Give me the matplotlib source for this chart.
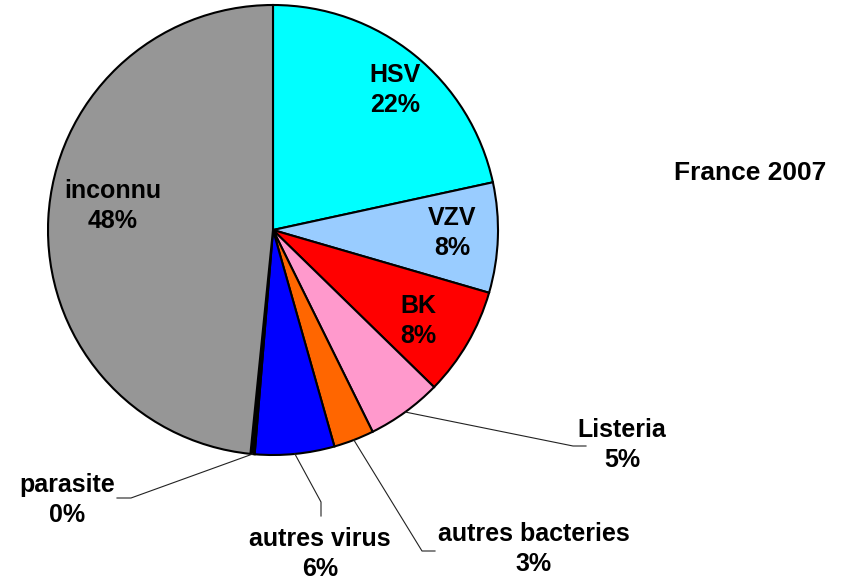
import numpy as np
from matplotlib import pyplot as plt

labels = ['HSV', 'VZV', 'BK', 'Listeria', 'autres bacteries', 'autres virus', 'parasite', 'inconnu']
values = [21.6, 7.9, 7.8, 5.4, 2.9, 5.7, 0.3, 48.4]
colors = ['#00FFFF', '#99CCFF', '#FF0000', '#FF99CC', '#FF6600', '#0000FF', '#000000', '#969696']

W, H = 852, 582
CX, CY, R = 273, 230, 225


def px(x, y):
    # pixel position -> data coords (pie radius 1)
    return (x - CX) / R, (CY - y) / R


plt.rcParams['font.family'] = ['Liberation Sans', 'DejaVu Sans']
fig = plt.figure(figsize=(W / 100, H / 100), dpi=100)
ax = fig.add_axes([0, 0, 1, 1])

wedges, _ = ax.pie(values, colors=colors, startangle=90, counterclock=False,
                   radius=1, wedgeprops=dict(edgecolor='black', linewidth=1.5))
ax.set_xlim(-CX / R, (W - CX) / R)
ax.set_ylim(-(H - CY) / R, CY / R)
ax.axis('off')

pct = {lab: f"{lab}\n{round(v):.0f}%" for lab, v in zip(labels, values)}
FS = 18

# labels inside the pie
inside = {'HSV': (395, 90), 'VZV': (452, 233), 'BK': (418, 321), 'inconnu': (113, 206)}
for lab, (x, y) in inside.items():
    ax.text(*px(x, y), pct[lab], ha='center', va='center', fontsize=FS,
            fontweight='bold', linespacing=1.35)

# labels outside with leader lines: (text centre, elbow, end)
outside = {
    'Listeria': ((622, 445), (573, 446), (586, 446)),
    'autres bacteries': ((534, 549), (422, 551), (435, 551)),
    'autres virus': ((320, 554), (321, 502), (321, 516)),
    'parasite': ((67, 500), (131, 498), (117, 498)),
}
for w, lab in zip(wedges, labels):
    if lab not in outside:
        continue
    (tx, ty), elbow, end = outside[lab]
    ang = np.deg2rad((w.theta1 + w.theta2) / 2)
    sx, sy = np.cos(ang), np.sin(ang)
    ex, ey = px(*elbow)
    fx, fy = px(*end)
    ax.plot([sx, ex, fx], [sy, ey, fy], color='#222222', lw=0.8)
    ax.text(*px(tx, ty), pct[lab], ha='center', va='center', fontsize=FS,
            fontweight='bold', linespacing=1.35)

ax.text(*px(750, 173), 'France 2007', ha='center', va='center', fontsize=19, fontweight='bold')

fig.savefig('out.png', dpi=100)
